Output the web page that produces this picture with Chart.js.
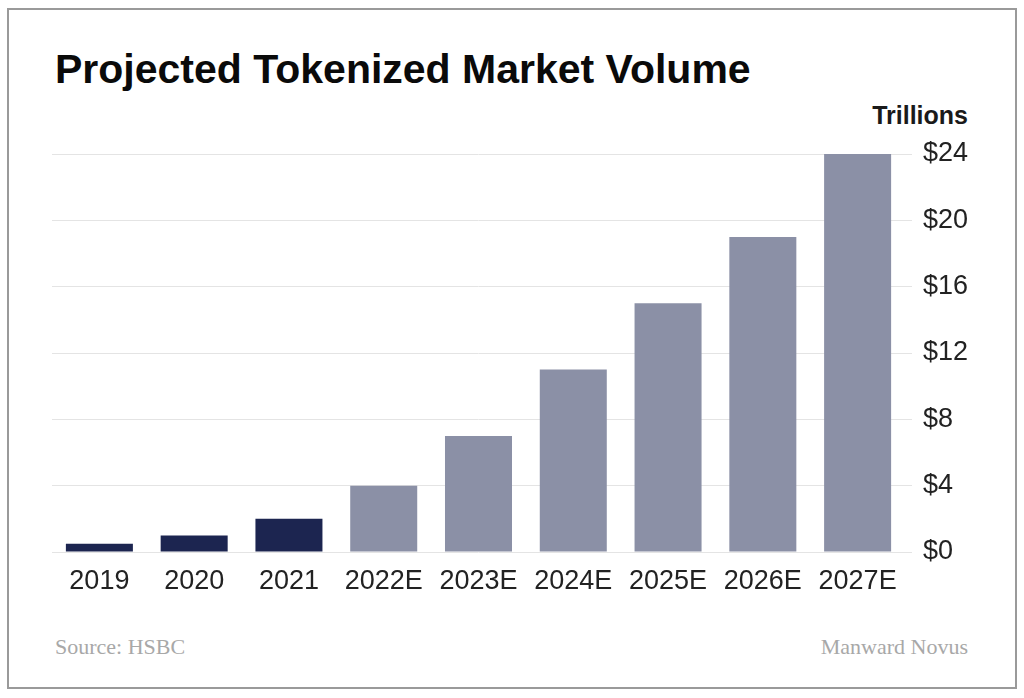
<!DOCTYPE html>
<html>
<head>
<meta charset="utf-8">
<title>Projected Tokenized Market Volume</title>
<script src="https://cdn.jsdelivr.net/npm/chart.js@4/dist/chart.umd.min.js"></script>
<style>
  html, body { margin: 0; padding: 0; background: #fff; }
  body { width: 1024px; height: 698px; position: relative; overflow: hidden; font-family: "Liberation Sans", Arial, Helvetica, sans-serif; }
  .frame { position: absolute; left: 7px; top: 8px; width: 1006px; height: 677px; border: 2px solid #9a9a9a; }
  .titulo { position: absolute; left: 55px; top: 49px; font-size: 41px; font-weight: bold; line-height: 1; color: #0a0a0a; }
  .unidad { position: absolute; right: 56px; top: 103px; font-size: 25px; font-weight: bold; line-height: 1; color: #1a1a1a; }
  .pie { position: absolute; top: 636px; font-family: "Liberation Serif", "Times New Roman", serif; font-size: 22px; line-height: 1; color: #a8a8a8; }
  #grafica { position: absolute; left: 0; top: 0; }
</style>
</head>
<body>
<div class="frame"></div>
<div class="titulo">Projected Tokenized Market Volume</div>
<div class="unidad">Trillions</div>
<div class="pie" style="left:55px">Source: HSBC</div>
<div class="pie" style="right:56px">Manward Novus</div>
<canvas id="grafica" width="1024" height="698"></canvas>
<script>
// valores (billones de dolares)
const anios = ['2019', '2020', '2021', '2022E', '2023E', '2024E', '2025E', '2026E', '2027E'];
const volumen = [0.5, 1, 2, 4, 7, 11, 15, 19, 24];
const proyectado = [false, false, false, true, true, true, true, true, true];
const marcasY = [0, 4, 8, 12, 16, 20, 24];

const colorReal = '#1c2550';
const colorProy = '#8b90a6';

const grafica = document.getElementById('grafica');

function functionChart(grafica, anios, volumen) {
    const myChart = new Chart(grafica, {
        type: 'bar',
        data: {
            labels: anios,
            datasets: [{
                label: 'Volumen',
                data: volumen,
                backgroundColor: proyectado.map(p => p ? colorProy : colorReal),
                borderWidth: 0,
                barPercentage: 0.707,
                categoryPercentage: 1
            }],
        },
        options: {
            responsive: false,
            animation: false,
            devicePixelRatio: 1,
            layout: {
                padding: { left: 52, right: 39, top: 154, bottom: 86 }
            },
            plugins: {
                legend: { display: false },
                tooltip: { enabled: false }
            },
            scales: {
                x: {
                    grid: { display: false, drawTicks: false },
                    border: { display: false },
                    ticks: {
                        padding: 13,
                        color: '#222',
                        font: { family: '"Liberation Sans", Arial, sans-serif', size: 27 }
                    },
                    afterFit: (scale) => { scale.height = 60; }
                },
                y: {
                    position: 'right',
                    min: 0,
                    max: 24,
                    afterBuildTicks: (scale) => { scale.ticks = marcasY.map(v => ({ value: v })); },
                    grid: { color: '#e4e4e4', lineWidth: 1, drawTicks: true, tickLength: 7 },
                    border: { display: false },
                    ticks: {
                        padding: 11,
                        color: '#222',
                        font: { family: '"Liberation Sans", Arial, sans-serif', size: 27 },
                        callback: (v) => '$' + v
                    },
                    afterFit: (scale) => { scale.width = 80; }
                }
            },
        },
    });
    return myChart;
};

functionChart(grafica, anios, volumen);
</script>
</body>
</html>
